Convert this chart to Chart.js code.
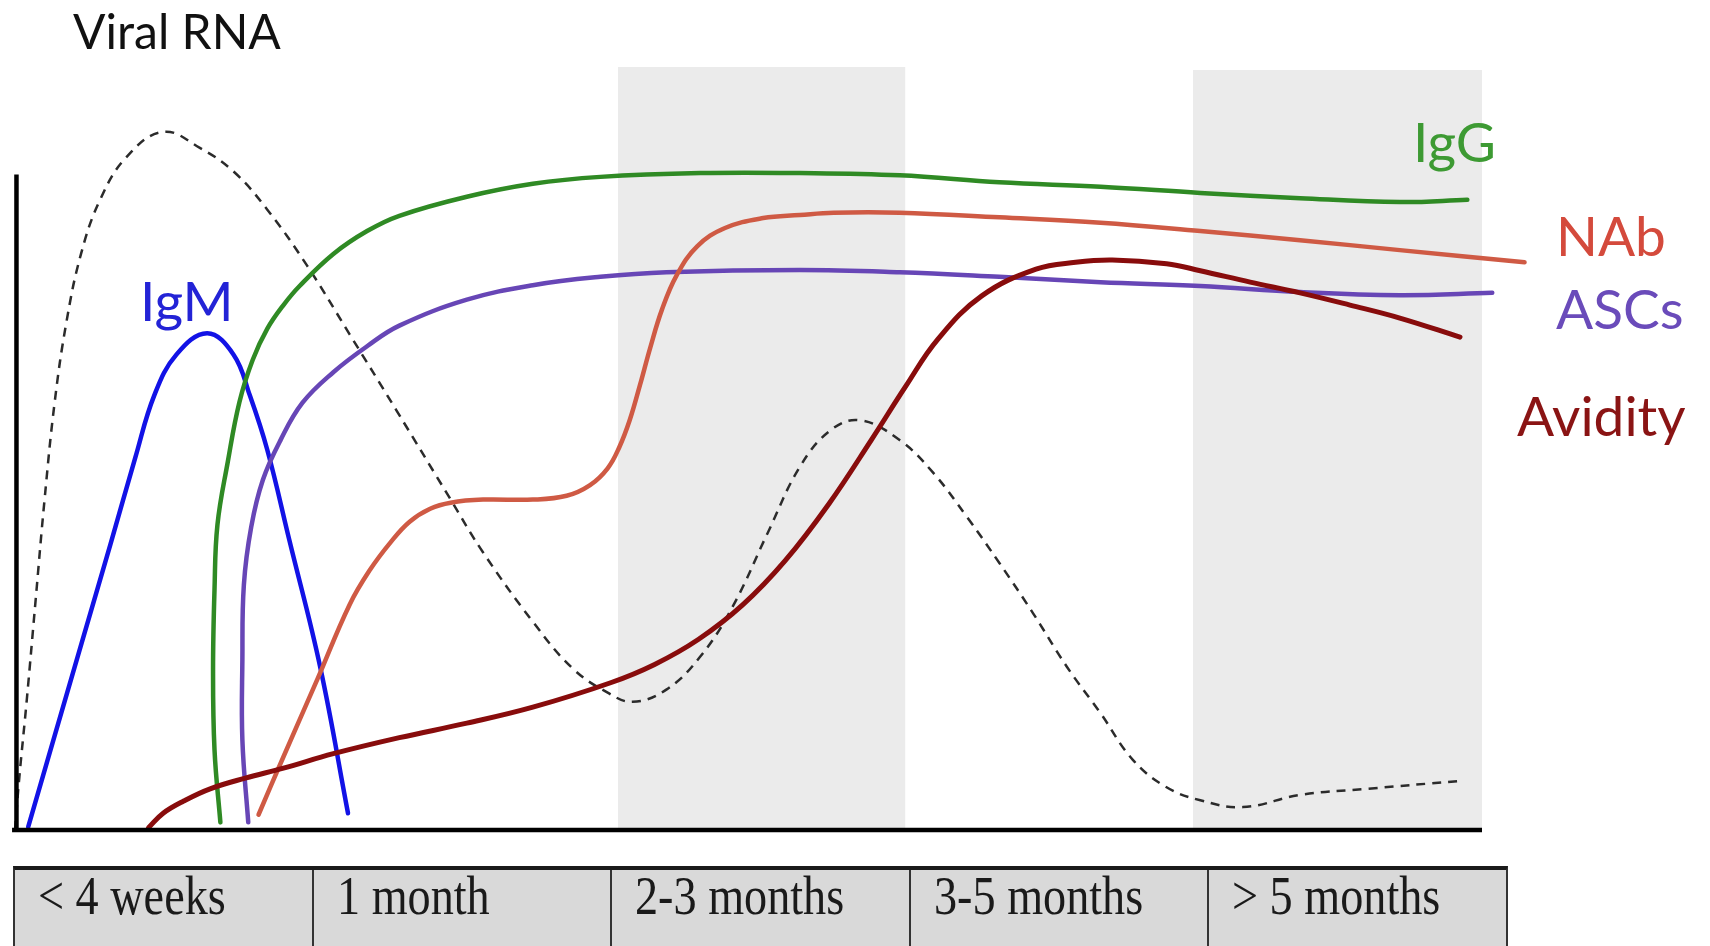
<!DOCTYPE html>
<html>
<head>
<meta charset="utf-8">
<script src="https://cdn.jsdelivr.net/npm/chart.js@4.4.0/dist/chart.umd.min.js"></script>
<style>
  html, body { margin: 0; padding: 0; background: #fff; }
  body { width: 1710px; height: 946px; position: relative; overflow: hidden; }
  #chart { position: absolute; left: 0; top: 0; }
  .lbl { position: absolute; font-family: Lato, sans-serif; font-size: 55px; line-height: 1; white-space: nowrap; }
  #periods { position: absolute; left: 13px; top: 866px; width: 1495px; height: 82px; box-sizing: border-box;
             display: flex; background: #d9d9d9; border: 2px solid #333; border-top: 4px solid #1a1a1a; }
  .cell { position: relative; flex: 1; border-right: 2px solid #333; }
  .cell:last-child { border-right: none; }
  .cell span { position: absolute; left: 23px; top: -2px; font-family: "Liberation Serif", serif; font-size: 55px;
               line-height: 1; transform: scaleX(0.84); transform-origin: left top; color: #1a1a1a; white-space: nowrap; }
</style>
</head>
<body>
<canvas id="chart" width="1710" height="946"></canvas>
<div id="labels"></div>
<div id="periods"></div>
<script>
// time on x (0 = infection, 100 = end of drawn axis), relative level on y (0..100)
const periodLabels = ['< 4 weeks', '1 month', '2-3 months', '3-5 months', '> 5 months'];
const seriesNames = ['Viral RNA', 'IgM', 'IgG', 'NAb', 'ASCs', 'Avidity'];

// shaded periods [start, end, top]
const bandRanges = [[41.1, 60.7, 100], [80.3, 100, 99.6]];
const yAxisTop = 85.9;

const viralRna = [[0,0],[0.3,7],[0.8,17],[1.4,30],[2.0,43],[2.7,56],[3.5,66.5],[4.5,75.5],[5.8,82.6],[7.6,88.2],
  [10.1,91.5],[12.6,89.4],[14.9,86.3],[17.2,81.3],[19.9,74.0],[22.8,65.0],[26.0,55.0],[29.7,43.3],[31.9,36.4],
  [35.3,27.3],[38.0,21.2],[40.4,18.0],[42.1,16.8],[44.4,18.4],[46.7,22.7],[48.9,29.2],[51.3,38.9],[53.5,47.6],
  [55.6,52.4],[57.6,53.7],[60.3,51.1],[62.6,46.8],[64.9,41.0],[67.1,35.0],[69.4,28.4],[71.7,21.4],[74.0,15.3],
  [76.2,9.2],[78.5,5.6],[80.8,3.9],[83.7,3.0],[87.6,4.6],[92.2,5.4],[98.3,6.4]];

const igm = [[0.9,0.4],[4.6,24.9],[6.5,37.4],[8.2,48.8],[9.5,57.0],[11.0,62.3],[13.1,65.1],[14.9,62.3],[16.0,57.0],
  [17.2,49.8],[18.7,38.0],[20.8,21.4],[22.7,2.2]];

const igg = [[14.0,1.0],[13.6,10.5],[13.5,21.0],[13.6,31.5],[13.8,40.0],[14.5,48.2],[15.3,56.1],[16.2,61.6],[17.2,65.7],
  [18.3,68.8],[19.4,71.3],[21.7,75.5],[24.0,78.5],[26.2,80.5],[30.8,83.0],[35.3,84.7],[39.9,85.6],[46.7,86.1],
  [53.5,86.1],[60.3,85.8],[67.1,84.9],[74.0,84.3],[80.8,83.5],[87.6,82.8],[94.4,82.3],[99.0,82.6]];

const ascs = [[15.9,1.0],[15.5,11.8],[15.5,22.3],[15.6,32.1],[16.1,39.7],[16.9,45.9],[18.1,51.1],[19.6,56.0],[21.7,60.0],
  [24.0,63.4],[26.2,66.1],[30.8,69.5],[35.3,71.4],[39.9,72.5],[44.4,73.1],[53.5,73.4],[60.3,73.1],[67.1,72.5],
  [74.0,71.8],[80.8,71.3],[87.6,70.5],[94.4,70.1],[100.7,70.4]];

const nab = [[16.6,2.0],[18.3,9.6],[20.6,19.7],[22.8,29.5],[24.2,34.1],[25.6,37.7],[26.9,40.4],[28.3,42.1],[29.7,42.9],
  [31.9,43.3],[35.3,43.3],[37.6,43.8],[39.2,45.2],[40.4,47.4],[41.2,50.2],[41.9,53.7],[42.6,58.3],[43.3,63.2],
  [44.1,68.2],[45.1,72.7],[46.5,76.5],[48.4,78.9],[51.0,80.2],[53.5,80.6],[55.8,80.9],[60.3,80.9],[67.1,80.3],
  [74.0,79.6],[80.8,78.5],[87.6,77.3],[94.4,76.0],[102.9,74.4]];

const avidity = [[9.1,0.3],[10.1,2.2],[11.5,3.8],[13.3,5.4],[15.7,6.8],[18.3,8.1],[21.7,10.0],[26.2,12.1],[30.8,14.0],
  [35.3,16.1],[40.6,19.3],[43.6,21.7],[46.6,25.0],[49.6,29.5],[52.5,35.3],[55.5,42.8],[58.4,51.2],[60.7,58.1],
  [62.9,64.3],[65.9,70.0],[69.6,73.5],[72.3,74.4],[74.8,74.7],[78.5,74.2],[80.8,73.3],[84.2,71.8],[87.6,70.4],
  [91.0,68.8],[94.4,67.1],[98.5,64.6]];

const toPts = pts => pts.map(([x, y]) => ({ x, y }));

function curve(label, pts, color, width, extra) {
  return Object.assign({
    label, data: toPts(pts), borderColor: color, borderWidth: width,
    pointRadius: 0, tension: 0.4, fill: false, clip: false, order: 1,
    borderCapStyle: 'round'
  }, extra || {});
}

const datasets = [
  curve(seriesNames[5], avidity, '#880c0c', 5),
  curve(seriesNames[3], nab, '#cf5a44', 4.5),
  curve(seriesNames[4], ascs, '#6746b6', 4.5),
  curve(seriesNames[2], igg, '#2f8a24', 4.5),
  curve(seriesNames[1], igm, '#1212e6', 4.5),
  curve(seriesNames[0], viralRna, '#2b2b2b', 2.5, { borderDash: [9, 7], borderCapStyle: 'butt' })
];

// shaded periods drawn as filled flat lines behind the curves
bandRanges.forEach(([a, b, top], i) => {
  datasets.push({
    label: 'band' + i, data: [{ x: a, y: top }, { x: b, y: top }],
    borderWidth: 0, pointRadius: 0, tension: 0, fill: 'origin',
    backgroundColor: '#ebebeb', order: 10
  });
});

const axesPlugin = {
  id: 'axesLines',
  afterDatasetsDraw(chart) {
    const { ctx, scales: { x, y } } = chart;
    ctx.save();
    ctx.strokeStyle = '#000';
    ctx.lineWidth = 4.5;
    ctx.beginPath();
    ctx.moveTo(x.getPixelForValue(-0.2), y.getPixelForValue(0));
    ctx.lineTo(x.getPixelForValue(100), y.getPixelForValue(0));
    ctx.moveTo(x.getPixelForValue(0.1), y.getPixelForValue(0));
    ctx.lineTo(x.getPixelForValue(0.1), y.getPixelForValue(yAxisTop));
    ctx.stroke();
    ctx.restore();
  }
};

new Chart(document.getElementById('chart'), {
  type: 'line',
  data: { datasets },
  options: {
    responsive: false,
    animation: false,
    layout: { padding: { left: 15, right: 228, top: 67, bottom: 116 } },
    elements: { line: { capBezierPoints: false } },
    scales: {
      x: { type: 'linear', min: 0, max: 100, display: false },
      y: { min: 0, max: 100, display: false }
    },
    plugins: { legend: { display: false }, tooltip: { enabled: false } }
  },
  plugins: [axesPlugin]
});

// curve names
const labelSpots = [
  { left: 73, top: 7, size: 48, color: '#111' },
  { left: 140, top: 273, color: '#2323d6' },
  { left: 1413, top: 114, color: '#3d9a33' },
  { left: 1556, top: 208, color: '#d44a3c' },
  { left: 1556, top: 281, color: '#6a4bba' },
  { left: 1517, top: 388, color: '#8a1414' }
];
const labelsDiv = document.getElementById('labels');
seriesNames.forEach((name, i) => {
  const s = document.createElement('div');
  s.className = 'lbl';
  s.textContent = name;
  s.style.left = labelSpots[i].left + 'px';
  s.style.top = labelSpots[i].top + 'px';
  s.style.color = labelSpots[i].color;
  if (labelSpots[i].size) s.style.fontSize = labelSpots[i].size + 'px';
  labelsDiv.appendChild(s);
});

// period boxes under the axis
const periods = document.getElementById('periods');
periodLabels.forEach(t => {
  const c = document.createElement('div');
  c.className = 'cell';
  const sp = document.createElement('span');
  sp.textContent = t;
  c.appendChild(sp);
  periods.appendChild(c);
});
</script>
</body>
</html>
